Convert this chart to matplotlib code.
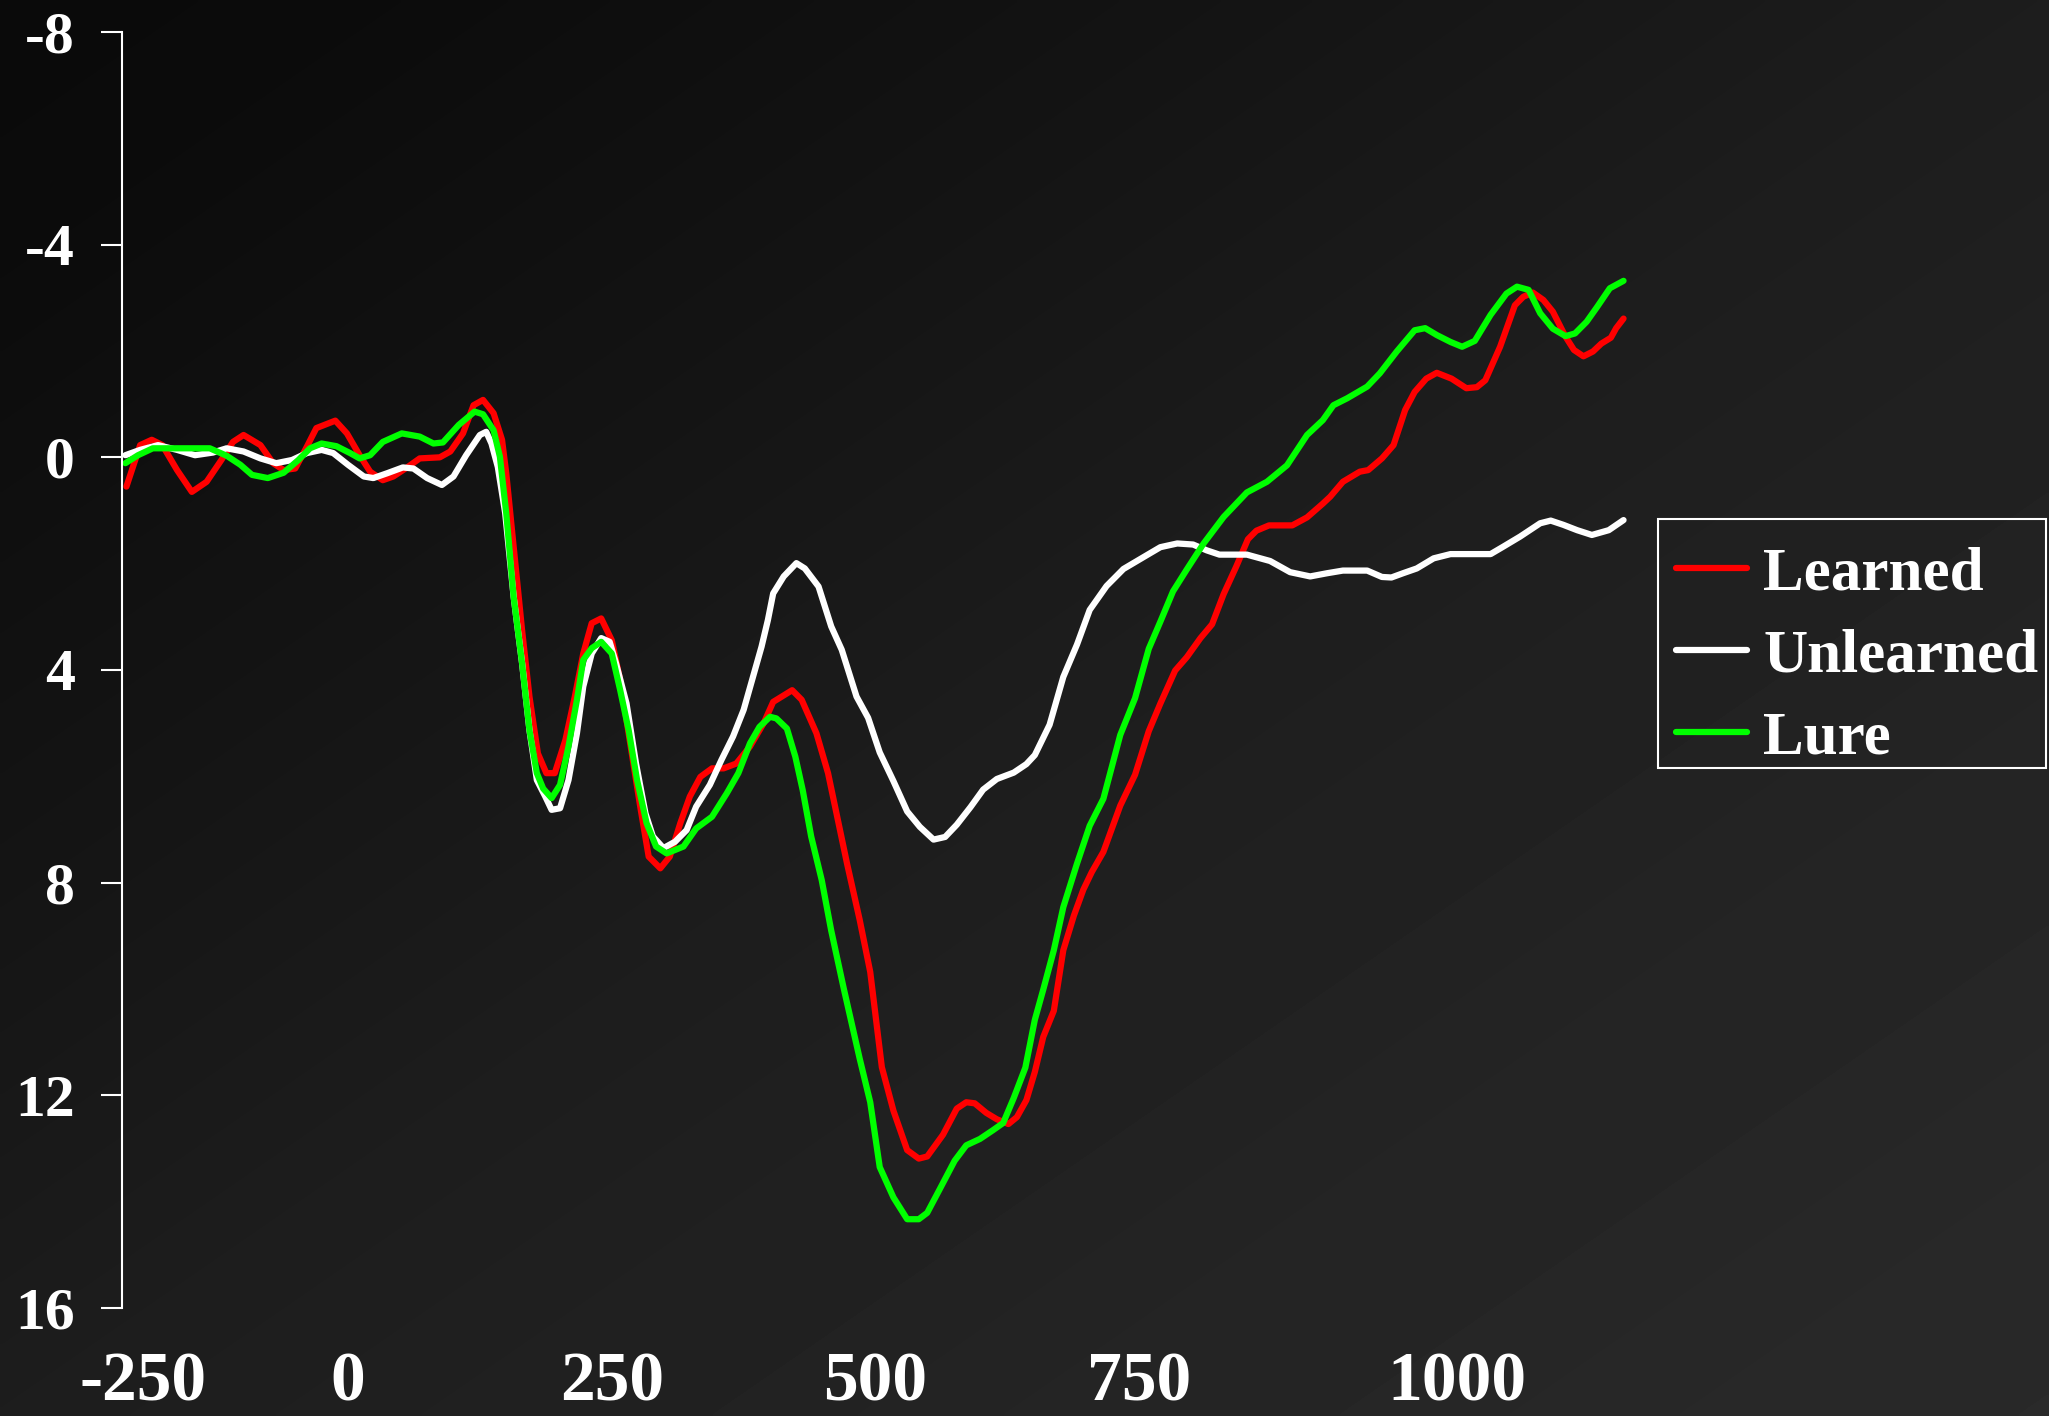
import numpy as np
import matplotlib
matplotlib.use("Agg")
import matplotlib.pyplot as plt
from matplotlib.patches import Rectangle

# ERP grand averages (time in ms, amplitude in microvolts, negative up)
learned_t = [-210, -197, -186, -176, -162, -148, -134, -120, -109, -99, -83, -71, -61, -50,
             -39, -30, -12, -1, 11, 21, 33, 43, 56, 68, 87, 97, 109, 119, 128, 138, 146, 150,
             157, 165, 172, 180, 188, 196, 206, 215, 223, 231, 240, 250, 258, 267, 277, 285,
             296, 305, 315, 324, 334, 345, 356, 368, 381, 394, 403, 421, 430, 444, 455, 463,
             473, 485, 495, 506, 517, 530, 541, 549, 564, 577, 586, 594, 605, 615, 626, 634,
             643, 651, 659, 669, 678, 688, 697, 705, 716, 732, 746, 759, 770, 784, 795, 808,
             819, 830, 842, 853, 861, 873, 895, 909, 924, 931, 943, 959, 967, 980, 991, 1002,
             1011, 1022, 1032, 1046, 1060, 1070, 1078, 1092, 1106, 1114, 1123, 1133, 1142,
             1154, 1162, 1171, 1180, 1188, 1197, 1202, 1209]
learned_v = [0.55, -0.23, -0.33, -0.23, 0.24, 0.65, 0.46, 0.05, -0.29, -0.42, -0.23, 0.11, 0.24,
             0.21, -0.20, -0.55, -0.69, -0.45, -0.04, 0.27, 0.43, 0.36, 0.19, 0.02, 0.00, -0.11,
             -0.45, -0.98, -1.08, -0.83, -0.33, 0.30, 1.68, 3.25, 4.50, 5.57, 5.94, 5.94, 5.32,
             4.50, 3.69, 3.12, 3.03, 3.44, 4.19, 5.32, 6.57, 7.51, 7.73, 7.51, 6.88, 6.38, 6.01,
             5.85, 5.85, 5.76, 5.44, 5.00, 4.60, 4.38, 4.56, 5.19, 5.94, 6.70, 7.64, 8.70, 9.68,
             11.47, 12.29, 13.03, 13.19, 13.15, 12.74, 12.25, 12.13, 12.15, 12.33, 12.45, 12.54,
             12.41, 12.09, 11.56, 10.90, 10.41, 9.27, 8.62, 8.13, 7.80, 7.42, 6.55, 5.97, 5.15,
             4.63, 4.01, 3.76, 3.40, 3.14, 2.57, 2.05, 1.54, 1.38, 1.28, 1.28, 1.13, 0.87, 0.74,
             0.46, 0.27, 0.24, 0.02, -0.23, -0.89, -1.23, -1.48, -1.59, -1.48, -1.30, -1.32,
             -1.45, -2.08, -2.86, -3.02, -3.10, -2.96, -2.74, -2.27, -2.02, -1.90, -1.99, -2.14,
             -2.25, -2.43, -2.61]

unlearned_t = [-211, -197, -180, -162, -145, -128, -115, -99, -83, -68, -53, -39, -25, -14, 0,
               15, 24, 37, 52, 62, 75, 89, 100, 112, 125, 131, 136, 142, 149, 157, 165, 172,
               179, 187, 193, 201, 209, 217, 223, 231, 240, 248, 254, 264, 273, 282, 289, 299,
               310, 321, 330, 343, 354, 365, 375, 383, 392, 398, 403, 413, 425, 433, 446, 458,
               468, 482, 493, 504, 517, 530, 542, 555, 566, 577, 590, 602, 615, 631, 643, 651,
               665, 678, 691, 703, 719, 735, 758, 770, 786, 801, 814, 826, 852, 874, 893, 912,
               928, 943, 966, 980, 989, 1000, 1013, 1029, 1045, 1083, 1095, 1111, 1130, 1140,
               1152, 1165, 1179, 1195, 1209]
unlearned_v = [-0.04, -0.14, -0.23, -0.14, -0.04, -0.09, -0.17, -0.11, 0.02, 0.11, 0.05, -0.08,
               -0.14, -0.08, 0.14, 0.36, 0.39, 0.30, 0.19, 0.21, 0.39, 0.52, 0.36, -0.04, -0.42,
               -0.48, -0.26, 0.18, 1.05, 2.62, 3.87, 5.13, 6.07, 6.38, 6.63, 6.60, 6.07, 5.19,
               4.31, 3.69, 3.40, 3.47, 3.87, 4.63, 5.76, 6.70, 7.13, 7.35, 7.23, 7.01, 6.57, 6.16,
               5.69, 5.25, 4.75, 4.19, 3.56, 3.06, 2.56, 2.24, 1.99, 2.09, 2.43, 3.18, 3.62, 4.50,
               4.90, 5.55, 6.09, 6.66, 6.95, 7.19, 7.14, 6.91, 6.58, 6.25, 6.05, 5.93, 5.77, 5.60,
               5.03, 4.13, 3.52, 2.87, 2.42, 2.10, 1.83, 1.69, 1.62, 1.64, 1.75, 1.83, 1.83, 1.95,
               2.16, 2.24, 2.18, 2.13, 2.13, 2.25, 2.26, 2.18, 2.09, 1.90, 1.82, 1.82, 1.68, 1.49,
               1.24, 1.19, 1.27, 1.37, 1.46, 1.37, 1.18]

lure_t = [-211, -199, -185, -166, -131, -115, -102, -91, -76, -61, -47, -36, -25, -11, 2, 11,
          21, 33, 51, 68, 81, 90, 105, 120, 128, 138, 144, 150, 157, 165, 172, 179, 185, 193,
          201, 209, 217, 223, 231, 240, 250, 258, 266, 274, 283, 292, 302, 318, 330, 345, 359,
          370, 381, 390, 400, 406, 416, 424, 431, 439, 449, 458, 470, 485, 495, 504, 517, 530,
          541, 549, 561, 575, 586, 599, 611, 621, 631, 642, 651, 659, 669, 678, 691, 703, 716,
          732, 746, 759, 770, 782, 795, 811, 830, 852, 871, 890, 909, 924, 934, 947, 966, 978,
          994, 1011, 1021, 1032, 1045, 1056, 1068, 1083, 1098, 1108, 1119, 1130, 1142, 1154,
          1163, 1174, 1184, 1196, 1209]
lure_v = [0.11, -0.04, -0.17, -0.17, -0.17, -0.03, 0.14, 0.33, 0.39, 0.29, 0.05, -0.17, -0.26,
          -0.21, -0.08, 0.02, -0.04, -0.29, -0.45, -0.39, -0.26, -0.28, -0.61, -0.86, -0.81,
          -0.51, -0.01, 1.05, 2.62, 3.87, 5.13, 5.94, 6.23, 6.41, 6.16, 5.44, 4.56, 3.81, 3.59,
          3.47, 3.69, 4.38, 5.13, 6.07, 6.88, 7.32, 7.45, 7.32, 6.98, 6.76, 6.32, 5.94, 5.38,
          5.07, 4.88, 4.91, 5.10, 5.63, 6.26, 7.13, 7.95, 8.90, 10.00, 11.31, 12.13, 13.35,
          13.92, 14.33, 14.33, 14.21, 13.76, 13.23, 12.94, 12.82, 12.66, 12.52, 12.05, 11.48,
          10.58, 10.01, 9.27, 8.46, 7.64, 6.93, 6.42, 5.22, 4.53, 3.60, 3.09, 2.52, 2.11, 1.62,
          1.12, 0.66, 0.46, 0.15, -0.42, -0.70, -0.98, -1.11, -1.33, -1.58, -1.99, -2.39,
          -2.43, -2.30, -2.17, -2.08, -2.19, -2.68, -3.08, -3.21, -3.15, -2.71, -2.42, -2.28,
          -2.33, -2.55, -2.83, -3.18, -3.32]

series_names = ["Learned", "Unlearned", "Lure"]
series_colors = ["#ff0000", "#ffffff", "#00ff00"]

x_tick_pos = [-194, 0, 250, 500, 750, 1051]
x_tick_labels = ["-250", "0", "250", "500", "750", "1000"]
y_ticks = [-8, -4, 0, 4, 8, 12, 16]

plt.rcParams["font.family"] = ["Liberation Serif", "DejaVu Serif"]
plt.rcParams["font.weight"] = "bold"

W, H = 2049, 1416
fig = plt.figure(figsize=(W / 100, H / 100), dpi=100)

# diagonal dark-grey backdrop, darkest at the top left
bg = fig.add_axes([0, 0, 1, 1], zorder=-10)
gy, gx = np.mgrid[0:354, 0:512]
t = (gx / 511 + gy / 353) / 2
shade = np.interp(t, [0, 0.1, 0.3, 0.5, 0.75, 1], [10, 12, 20, 29, 36, 42]) / 255
bg.imshow(shade, cmap="gray", vmin=0, vmax=1, extent=[0, 1, 0, 1], aspect="auto",
          interpolation="bilinear", origin="upper")
bg.set_axis_off()

ax = fig.add_axes([122 / W, 1 - 1308 / H, (1640 - 122) / W, (1308 - 32) / H])
ax.set_facecolor("none")

for t_ms, v, name, col in zip([learned_t, unlearned_t, lure_t],
                              [learned_v, unlearned_v, lure_v],
                              series_names, series_colors):
    ax.plot(t_ms, v, color=col, lw=4.5, label=name, solid_capstyle="round",
            solid_joinstyle="round")

ax.set_xlim(-214.2, 1224.6)
ax.set_ylim(16, -8)
ax.set_yticks(y_ticks)
ax.set_yticklabels([str(v) for v in y_ticks])
ax.set_xticks(x_tick_pos)
ax.set_xticklabels(x_tick_labels)

for side in ["top", "right", "bottom"]:
    ax.spines[side].set_visible(False)
ax.spines["left"].set_color("white")
ax.spines["left"].set_linewidth(1.5)

ax.tick_params(axis="y", direction="out", length=15, width=1.5, color="white",
               pad=19, labelsize=43, labelcolor="white")
ax.tick_params(axis="x", length=0, pad=31, labelsize=50, labelcolor="white")

# legend entries, with a plain white box drawn around them
leg = ax.legend(loc="upper left", bbox_to_anchor=(1658 / W, 1 - 528 / H),
                bbox_transform=fig.transFigure, borderaxespad=0,
                prop=dict(family="Liberation Serif", weight="bold", size=44),
                handlelength=1.16, handletextpad=0.26, labelspacing=0.43, borderpad=0.3,
                frameon=False)
for txt in leg.get_texts():
    txt.set_color("white")
for ln in leg.get_lines():
    ln.set_linewidth(4.5)
    ln.set_solid_capstyle("round")

fig.patches.append(Rectangle((1658 / W, 1 - 768 / H), (2046 - 1658) / W, (768 - 519) / H,
                             transform=fig.transFigure, fill=False, edgecolor="white",
                             linewidth=1.5, zorder=5))

fig.savefig("out.png", dpi=100)
